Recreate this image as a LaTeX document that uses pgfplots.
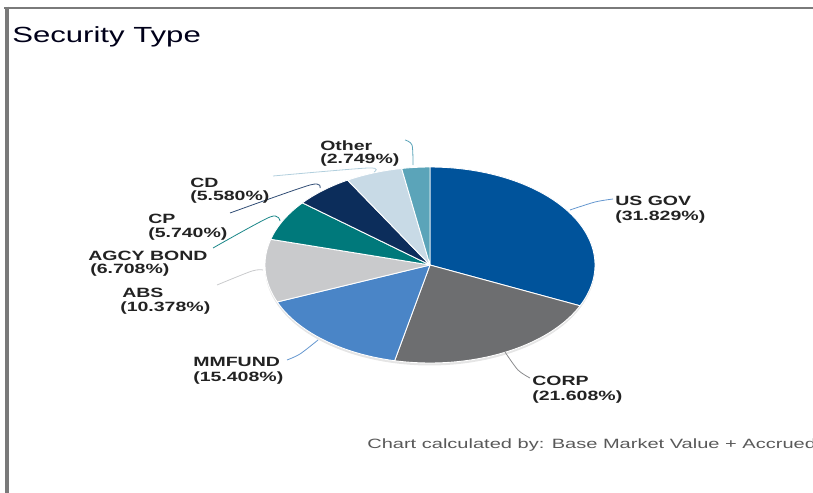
\documentclass[border=0pt]{standalone}
\usepackage{pgfplots}
\pgfplotsset{compat=1.18}
\usepackage{fontspec}
\setmainfont{Liberation Sans}
\definecolor{cUSGOV}{HTML}{00539B}
\definecolor{cCORP}{HTML}{6D6E70}
\definecolor{cMMF}{HTML}{4A85C7}
\definecolor{cABS}{HTML}{C9CACC}
\definecolor{cAGCY}{HTML}{00797B}
\definecolor{cCP}{HTML}{0C2D5B}
\definecolor{cCD}{HTML}{C8DAE6}
\definecolor{cOther}{HTML}{5BA4B9}
\definecolor{labelc}{HTML}{222222}
\definecolor{framec}{HTML}{7A7A7A}
\begin{document}
\begin{tikzpicture}
\begin{axis}[at={(0,0)}, anchor=south west, scale only axis,
  width=813bp, height=493bp, xmin=0, xmax=813, ymin=0, ymax=493,
  y dir=reverse, hide axis, clip=false]
% soft shadow under the pie
\addplot[fill=black!10, draw=none, domain=0:360, samples=120, variable=\t]
  ({430+165*cos(t)}, {267.5-98*sin(t)}) -- cycle;
% pie wedges, clockwise from 12 o'clock; values in percent
\xdef\cumul{0}
\foreach \v/\c in {31.829/cUSGOV, 21.608/cCORP, 15.408/cMMF, 10.378/cABS, 6.708/cAGCY, 5.740/cCP, 5.580/cCD, 2.749/cOther}{
  \pgfmathsetmacro\aS{90-3.6*\cumul}
  \pgfmathsetmacro\aE{90-3.6*(\cumul+\v)}
  \edef\doplot{\noexpand\addplot[fill=\c, draw=white, line width=0.9pt, line join=round, domain=\aE:\aS, samples=80, variable=\noexpand\t] ({430+165*cos(\noexpand\t)}, {265-98*sin(\noexpand\t)}) -- (axis cs:430,265) -- cycle;}
  \doplot
  \pgfmathsetmacro\tmp{\cumul+\v}
  \xdef\cumul{\tmp}
}
% leader lines
\draw[cMMF!85, line width=0.8pt] plot[smooth] coordinates {(axis cs:570,210) (axis cs:595,202) (axis cs:613,199)};
\draw[cCORP!80, line width=0.8pt] plot[smooth] coordinates {(axis cs:505,352) (axis cs:518,370) (axis cs:530,378)};
\draw[cMMF!85, line width=0.8pt] plot[smooth] coordinates {(axis cs:318,340) (axis cs:300,354) (axis cs:287,360)};
\draw[cABS, line width=0.8pt] plot[smooth] coordinates {(axis cs:217,285) (axis cs:252,271) (axis cs:263,270)};
\draw[cAGCY!90, line width=0.8pt] plot[smooth] coordinates {(axis cs:213,248) (axis cs:270,217) (axis cs:280,221)};
\draw[cCP!85, line width=0.8pt] plot[smooth] coordinates {(axis cs:230,213) (axis cs:310,185) (axis cs:320,188)};
\draw[cCD!80!cOther, line width=0.8pt] plot[smooth] coordinates {(axis cs:273,176) (axis cs:368,168) (axis cs:374,172)};
\draw[cOther, line width=0.8pt] plot[smooth] coordinates {(axis cs:405,140) (axis cs:412,145) (axis cs:413,165)};
% labels
\tikzset{lab/.style={anchor=base west, xscale=1.45, inner sep=0pt, text=labelc, font=\fontsize{13.5}{14}\selectfont\bfseries}}
\node[lab] at (axis cs:615,205) {US GOV};
\node[lab] at (axis cs:615,220) {(31.829\%)};
\node[lab] at (axis cs:532,385) {CORP};
\node[lab] at (axis cs:532,400) {(21.608\%)};
\node[lab] at (axis cs:193,366) {MMFUND};
\node[lab] at (axis cs:193,381) {(15.408\%)};
\node[lab] at (axis cs:122,297) {ABS};
\node[lab] at (axis cs:120,311) {(10.378\%)};
\node[lab] at (axis cs:88,260) {AGCY BOND};
\node[lab] at (axis cs:90,273) {(6.708\%)};
\node[lab] at (axis cs:148,223) {CP};
\node[lab] at (axis cs:148,237) {(5.740\%)};
\node[lab] at (axis cs:190,187) {CD};
\node[lab] at (axis cs:190,200) {(5.580\%)};
\node[lab] at (axis cs:320,150) {Other};
\node[lab] at (axis cs:320,163) {(2.749\%)};
% title and footnote
\node[anchor=base west, xscale=1.42, inner sep=0pt, text=black!90!blue, font=\fontsize{22}{24}\selectfont] at (axis cs:12,43) {Security Type};
\node[anchor=base west, xscale=1.49, inner sep=0pt, text=black!65, font=\fontsize{13.5}{14}\selectfont] at (axis cs:367,448) {Chart calculated by: Base Market Value + Accrued};
% frame
\draw[framec, line width=2.5bp] (axis cs:4,8) -- (axis cs:813,8);
\draw[framec, line width=4bp] (axis cs:6.5,6.75) -- (axis cs:6.5,493);
\end{axis}
\pgfresetboundingbox
\useasboundingbox (0,0) rectangle (813bp,493bp);
\end{tikzpicture}
\end{document}
